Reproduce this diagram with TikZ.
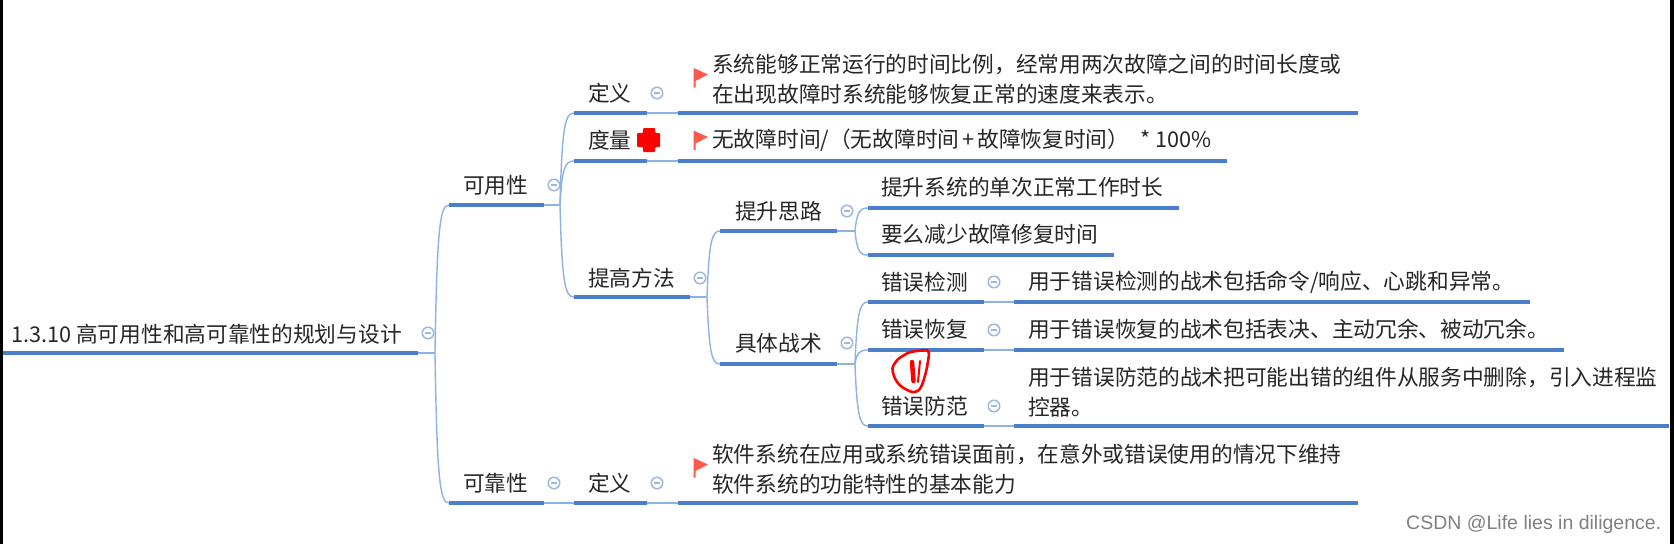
\documentclass[tikz,border=0pt]{standalone}
\usepackage{fontspec}
\usetikzlibrary{calc}
\setmainfont{Noto Sans CJK SC}
\newfontfamily\wmfont{Liberation Sans}
\definecolor{thickblue}{HTML}{4A7FCB}
\definecolor{thinblue}{HTML}{8DB2E4}
\definecolor{circblue}{HTML}{9DB7E0}
\definecolor{inktext}{HTML}{262626}
\definecolor{flagred}{HTML}{FB5A4C}
\tikzset{
  x=1pt,y=-1pt,
  label text/.style={anchor=west,inner sep=0pt,text=inktext,align=left,
    font=\fontsize{21.7}{30}\selectfont},
  under/.style={draw=thickblue,line width=3.6pt},
  link/.style={draw=thinblue,line width=1.4pt},
  collapse/.style={circle,draw=circblue,line width=1.5pt,fill=white,inner sep=0pt,minimum size=11.5pt,
    path picture={\draw[circblue,line width=1.3pt]
      ([xshift=-3pt]path picture bounding box.center) -- ([xshift=3pt]path picture bounding box.center);}},
  flagshape/.style={fill=flagred,draw=none},
  handmark/.style={draw=red,line width=2.6pt,line join=round,line cap=round},
}
% \uline{name}{x1}{x2}{y}
\newcommand{\uline}[4]{%
  \coordinate (#1-l) at (#2,#4);
  \coordinate (#1-r) at (#3,#4);
  \draw[under] (#1-l) -- (#1-r);}
% \branch{junction}{target}
\newcommand{\branch}[2]{%
  \draw[link] (#1) .. controls ($(#1)!.85!(#1 |- #2)+(2,0)$) and ($(#1 |- #2)+(5,0)$) .. (#2);}
% \flagmark{x}{ytop}
\newcommand{\flagmark}[2]{%
  \fill[flagshape] (#1,#2) -- (#1+14.5,#2+6.5) -- (#1+2,#2+13) -- (#1+2,#2+19.5) -- (#1,#2+19.5) -- cycle;}
\begin{document}
\begin{tikzpicture}
\useasboundingbox (0,0) rectangle (1674,544);
\fill[white] (0,0) rectangle (1674,544);
\fill[black] (0,0) rectangle (2.5,544);
\fill[black] (1669.5,0) rectangle (1674,544);

% underlines
\uline{root}{3}{418}{353}
\uline{avail}{449}{544}{205}
\uline{rel}{449}{544}{503}
\uline{def}{574}{647}{113}
\uline{deft}{678}{1358}{113}
\uline{meas}{574}{647}{161}
\uline{meast}{678}{1227}{161}
\uline{impr}{574}{690}{297}
\uline{idea}{720}{837}{231}
\uline{tact}{720}{837}{364}
\uline{ideaa}{868}{1179}{208}
\uline{ideab}{868}{1114}{255}
\uline{det}{868}{984}{302}
\uline{dett}{1014}{1530}{302}
\uline{rec}{868}{984}{350}
\uline{rect}{1014}{1564}{350}
\uline{pre}{868}{984}{426}
\uline{pret}{1014}{1669}{426}
\uline{reld}{574}{647}{503}
\uline{reldt}{678}{1358}{503}

% junctions
\coordinate (jroot) at (435,353);
\coordinate (javail) at (560,205);
\coordinate (jimpr) at (707,297);
\coordinate (jidea) at (855,231);
\coordinate (jtact) at (855,364);

% connectors
\draw[link] (root-r) -- (jroot);
\branch{jroot}{avail-l}
\branch{jroot}{rel-l}
\draw[link] (avail-r) -- (javail);
\branch{javail}{def-l}
\branch{javail}{meas-l}
\branch{javail}{impr-l}
\draw[link] (impr-r) -- (jimpr);
\branch{jimpr}{idea-l}
\branch{jimpr}{tact-l}
\draw[link] (idea-r) -- (jidea);
\branch{jidea}{ideaa-l}
\branch{jidea}{ideab-l}
\draw[link] (tact-r) -- (jtact);
\branch{jtact}{det-l}
\branch{jtact}{rec-l}
\branch{jtact}{pre-l}
\draw[link] (def-r) -- (deft-l);
\draw[link] (meas-r) -- (meast-l);
\draw[link] (det-r) -- (dett-l);
\draw[link] (rec-r) -- (rect-l);
\draw[link] (pre-r) -- (pret-l);
\draw[link] (rel-r) -- (reld-l);
\draw[link] (reld-r) -- (reldt-l);

% labels
\node[label text] (troot) at (11,334) {1.3.10 高可用性和高可靠性的规划与设计};
\node[label text] (tavail) at (463,185) {可用性};
\node[label text] (trel) at (463,483) {可靠性};
\node[label text] (tdef) at (588,93) {定义};
\node[label text] (tmeas) at (588,140) {度量};
\node[label text] (timpr) at (588,278) {提高方法};
\node[label text] (tidea) at (735,211) {提升思路};
\node[label text] (ttact) at (735,343) {具体战术};
\node[label text] (tdet) at (881,282) {错误检测};
\node[label text] (trec) at (881,329) {错误恢复};
\node[label text] (tpre) at (881,406) {错误防范};
\node[label text] (treld) at (588,483) {定义};
\node[label text] (tdeft) at (712,79) {系统能够正常运行的时间比例，经常用两次故障之间的时间长度或\\在出现故障时系统能够恢复正常的速度来表示。};
\node[label text] (tmeast) at (712,140) {无故障时间/（无故障时间\kern3pt+\kern3pt故障恢复时间）\hspace{6pt} * 100\%};
\node[label text] (tideaa) at (881,187) {提升系统的单次正常工作时长};
\node[label text] (tideab) at (881,234) {要么减少故障修复时间};
\node[label text] (tdett) at (1028,282) {用于错误检测的战术包括命令/响应、心跳和异常。};
\node[label text] (trect) at (1028,329) {用于错误恢复的战术包括表决、主动冗余、被动冗余。};
\node[label text] (tpret) at (1028,392) {用于错误防范的战术把可能出错的组件从服务中删除，引入进程监\\控器。};
\node[label text] (treldt) at (712,469) {软件系统在应用或系统错误面前，在意外或错误使用的情况下维持\\软件系统的功能特性的基本能力};

% collapse markers
\node[collapse] (croot) at (428,333) {};
\node[collapse] (cavail) at (554,185) {};
\node[collapse] (crel) at (554,483) {};
\node[collapse] (cdef) at (657,93) {};
\node[collapse] (cimpr) at (700,278) {};
\node[collapse] (cidea) at (847,211) {};
\node[collapse] (ctact) at (847,343) {};
\node[collapse] (cdet) at (994,282) {};
\node[collapse] (crec) at (994,330) {};
\node[collapse] (cpre) at (994,406) {};
\node[collapse] (creld) at (657,483) {};

% flags
\flagmark{693.5}{68}
\flagmark{693.5}{130.5}
\flagmark{693.5}{458}

% red plus
\fill[red,rounded corners=1pt] (643,128) -- (655,128) -- (655,133) -- (660,133) -- (660,147) -- (655,147) -- (655,152) -- (643,152) -- (643,147) -- (637,147) -- (637,133) -- (643,133) -- cycle;

% handwritten red mark
\draw[handmark] (927,350) .. controls (918,351) and (912,351) .. (908,353)
  .. controls (902,356) and (897,359) .. (895,363)
  .. controls (892,367) and (892,370) .. (893,373)
  .. controls (895,380) and (898,384) .. (902,387)
  .. controls (907,390) and (912,393) .. (915,392)
  .. controls (919,391) and (921,388) .. (922,385)
  .. controls (924,379) and (926,373) .. (927,367)
  .. controls (928,361) and (929,356) .. (929,353) -- cycle;
\draw[red,line width=4.5pt,line cap=round] (912,362) -- (913.5,381);
\draw[red,line width=2pt,line cap=round] (920,361) -- (918,382);

% watermark
\node[anchor=west,inner sep=0pt,text=black!50,font=\wmfont\fontsize{19.5}{22}\selectfont] (wm) at (1406,524) {CSDN @Life lies in diligence.};
\end{tikzpicture}
\end{document}
